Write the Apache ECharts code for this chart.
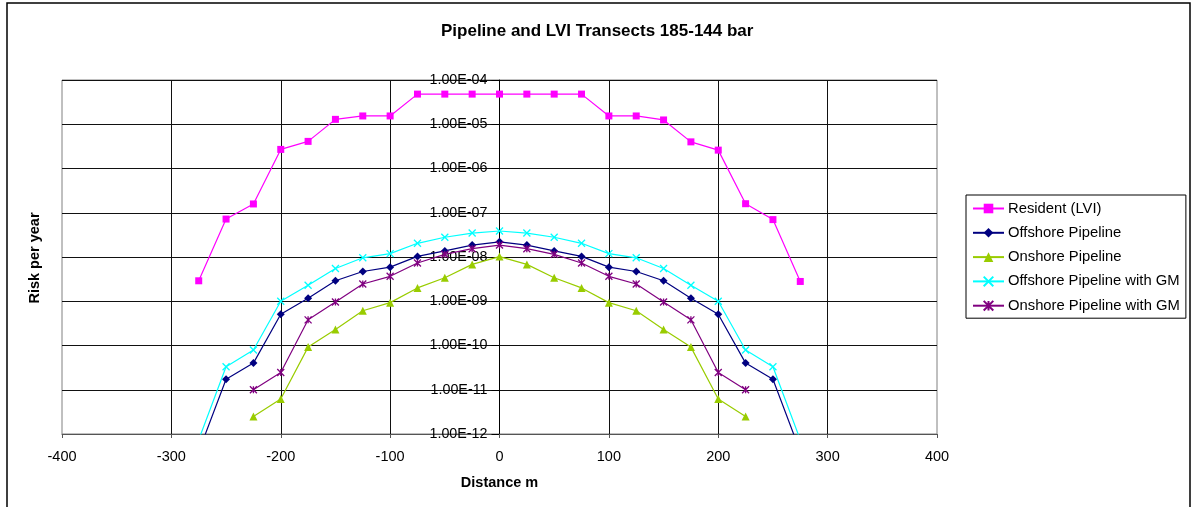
<!DOCTYPE html>
<html>
<head>
<meta charset="utf-8">
<script src="https://cdn.jsdelivr.net/npm/echarts@6/dist/echarts.min.js"></script>
<style>
html,body{margin:0;padding:0;background:#fff;}
#chart{width:1191px;height:507px;}
</style>
</head>
<body>
<div id="chart"></div>
<script>
// Distances (m)
const distAll = [-275,-250,-225,-200,-175,-150,-125,-100,-75,-50,-25,0,25,50,75,100,125,150,175,200,225,250,275];
const distInner = [-225,-200,-175,-150,-125,-100,-75,-50,-25,0,25,50,75,100,125,150,175,200,225];

// Risk per year values
const residentLVI = [2.9e-9,7.2e-8,1.58e-7,2.7e-6,4.1e-6,1.29e-5,1.54e-5,1.54e-5,4.8e-5,4.8e-5,4.8e-5,4.8e-5,4.8e-5,4.8e-5,4.8e-5,1.54e-5,1.54e-5,1.25e-5,4.0e-6,2.6e-6,1.6e-7,7.0e-8,2.8e-9];
const offshorePipeline = [4e-13,1.72e-11,4.0e-11,5.1e-10,1.17e-9,2.9e-9,4.7e-9,5.9e-9,1.03e-8,1.37e-8,1.86e-8,2.2e-8,1.86e-8,1.37e-8,1.03e-8,5.9e-9,4.7e-9,2.9e-9,1.17e-9,5.1e-10,4.0e-11,1.72e-11,4e-13];
const onshorePipeline = [2.5e-12,6.2e-12,9.2e-11,2.3e-10,6.1e-10,9.3e-10,2.0e-9,3.4e-9,6.8e-9,1.02e-8,6.8e-9,3.4e-9,2.0e-9,9.3e-10,6.1e-10,2.3e-10,9.2e-11,6.2e-12,2.5e-12];
const offshorePipelineGM = [7.4e-13,3.3e-11,7.9e-11,1.0e-9,2.3e-9,5.5e-9,9.6e-9,1.19e-8,2.04e-8,2.79e-8,3.48e-8,3.87e-8,3.48e-8,2.79e-8,2.04e-8,1.19e-8,9.6e-9,5.5e-9,2.3e-9,1.0e-9,7.9e-11,3.3e-11,7.4e-13];
const onshorePipelineGM = [1.0e-11,2.45e-11,3.8e-10,9.6e-10,2.45e-9,3.66e-9,7.3e-9,1.15e-8,1.54e-8,1.86e-8,1.54e-8,1.15e-8,7.3e-9,3.66e-9,2.45e-9,9.6e-10,3.8e-10,2.45e-11,1.0e-11];

const seriesNames = ['Resident (LVI)','Offshore Pipeline','Onshore Pipeline','Offshore Pipeline with GM','Onshore Pipeline with GM'];
const xTicks = {min:-400, max:400, interval:100};
const yTicks = {min:1e-12, max:1e-4};

const FONT = '"Liberation Sans", Arial, sans-serif';
const pair = (xs, ys) => xs.map((x, i) => [x, ys[i]]);

function fmtExp(v){
  const e = Math.round(Math.log10(v));
  const a = Math.abs(e);
  return '1.00E' + (e < 0 ? '-' : '+') + (a < 10 ? '0' + a : '' + a);
}

const crossPath = 'path://M0,0L10,10M10,0L0,10';
const starPath = 'path://M0,0L10,10M10,0L0,10M5,0L5,10';

function mk(name, data, color, symbol, size, stroke){
  return {
    name: name, type: 'line', data: data, symbol: symbol, symbolSize: size,
    clip: true,
    lineStyle: {color: color, width: 1.2},
    itemStyle: stroke ? {color: color, borderColor: color, borderWidth: 1.3} : {color: color},
    emphasis: {disabled: true},
    animation: false
  };
}

// grid geometry
const G = {left: 62, right: 254, top: 80, bottom: 73};
const plotW = 1191 - G.left - G.right;
// y axis sits at x = 0 of the x axis
const yAxisOffset = -plotW * (0 - xTicks.min) / (xTicks.max - xTicks.min);

const chart = echarts.init(document.getElementById('chart'), null, {renderer: 'canvas'});
chart.setOption({
  backgroundColor: '#fff',
  animation: false,
  textStyle: {fontFamily: FONT},
  title: {
    text: 'Pipeline and LVI Transects 185-144 bar',
    left: 441, top: 23, padding: 0,
    textStyle: {fontFamily: FONT, fontSize: 17, fontWeight: 'bold', color: '#000'}
  },
  legend: {
    orient: 'vertical', left: 966, top: 195,
    padding: [6, 6, 5, 6],
    itemWidth: 31, itemHeight: 12, itemGap: 9.3,
    borderColor: '#000', borderWidth: 1,
    backgroundColor: '#fff',
    textStyle: {fontFamily: FONT, fontSize: 14.8, color: '#000', padding: [0,0,0,-1]},
    data: seriesNames
  },
  grid: {left: G.left, right: G.right, top: G.top, bottom: G.bottom, outerBoundsMode: 'none', containLabel: false,
         show: true, borderColor: '#808080', borderWidth: 1, backgroundColor: '#fff'},
  xAxis: {
    type: 'value', min: xTicks.min, max: xTicks.max, interval: xTicks.interval,
    name: 'Distance m', nameLocation: 'middle', nameGap: 41,
    nameTextStyle: {fontFamily: FONT, fontSize: 14.5, fontWeight: 'bold', color: '#000'},
    axisLine: {show: true, onZero: false, lineStyle: {color: '#555', width: 1}},
    axisTick: {show: true, length: 4, lineStyle: {color: '#555'}},
    axisLabel: {fontFamily: FONT, fontSize: 14.5, color: '#000', margin: 15},
    splitLine: {show: true, showMinLine: false, showMaxLine: false, lineStyle: {color: '#111', width: 1}}
  },
  yAxis: {
    type: 'log', logBase: 10, min: yTicks.min, max: yTicks.max, splitNumber: 8,
    position: 'left', offset: yAxisOffset,
    axisLine: {show: true, onZero: false, lineStyle: {color: '#000', width: 1}},
    axisTick: {show: true, length: 8, lineStyle: {color: '#000'}},
    axisLabel: {fontFamily: FONT, fontSize: 14.3, color: '#000', margin: 12, formatter: fmtExp},
    splitLine: {show: true, showMinLine: false, showMaxLine: false, lineStyle: {color: '#111', width: 1}},
    minorTick: {show: false}, minorSplitLine: {show: false}
  },
  graphic: [
    {type: 'rect', silent: true, z: 100, shape: {x: 7, y: 3, width: 1183, height: 600}, style: {fill: null, stroke: '#000', lineWidth: 1.5}},
    {type: 'text', silent: true, x: 35, y: 258, rotation: Math.PI / 2,
     style: {text: 'Risk per year', font: 'bold 14.5px ' + FONT, fill: '#000', textAlign: 'center', textVerticalAlign: 'middle'}}
  ],
  series: [
    mk(seriesNames[0], pair(distAll, residentLVI), '#FF00FF', 'rect', 7, false),
    mk(seriesNames[1], pair(distAll, offshorePipeline), '#000080', 'diamond', 8, false),
    mk(seriesNames[2], pair(distInner, onshorePipeline), '#99CC00', 'triangle', 8, false),
    mk(seriesNames[3], pair(distAll, offshorePipelineGM), '#00FFFF', crossPath, 7, true),
    mk(seriesNames[4], pair(distInner, onshorePipelineGM), '#800080', starPath, 7, true)
  ]
});
</script>
</body>
</html>
